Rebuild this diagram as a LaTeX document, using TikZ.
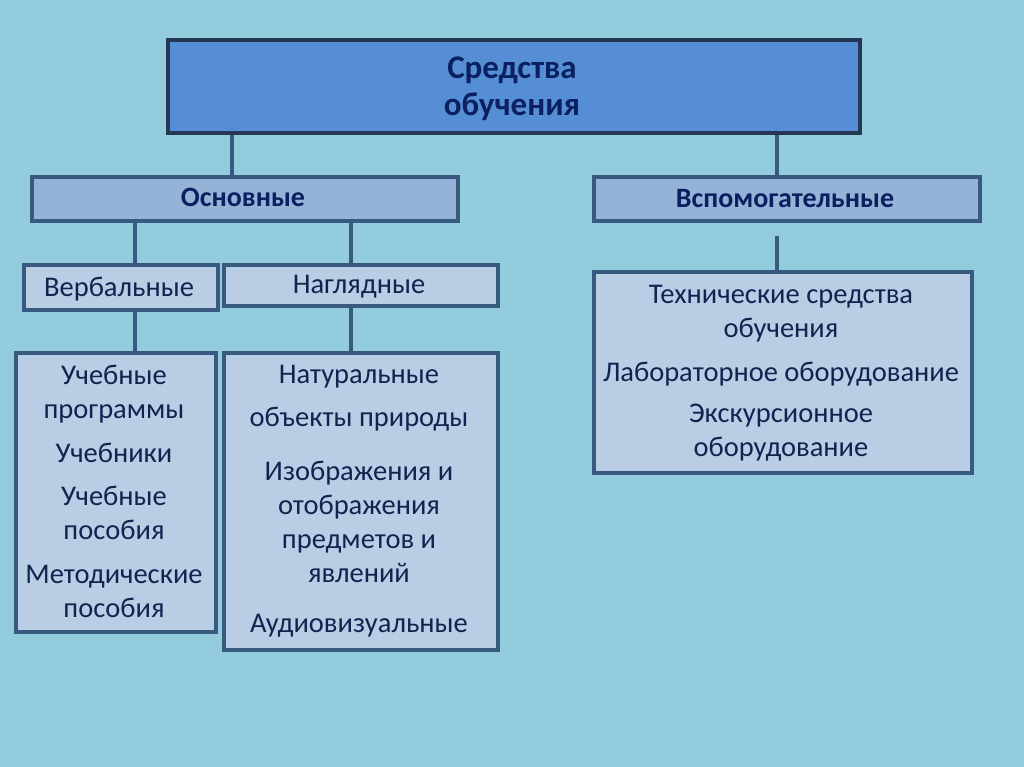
\documentclass[tikz,border=0pt]{standalone}
\usepackage{fontspec}
\setmainfont{Carlito}
\definecolor{bg}{RGB}{147,205,221}
\definecolor{topfill}{RGB}{85,142,213}
\definecolor{midfill}{RGB}{149,179,215}
\definecolor{lowfill}{RGB}{185,205,229}
\definecolor{topedge}{RGB}{36,56,84}
\definecolor{edge}{RGB}{56,90,128}
\definecolor{ink}{RGB}{16,36,80}
\definecolor{titleink}{RGB}{10,32,96}
\begin{document}
\begin{tikzpicture}[x=1pt,y=-1pt,
  box/.style={draw=edge,line width=4pt,inner sep=0pt,anchor=north west},
  link/.style={draw=edge,line width=4pt},
  txt/.style={text=ink,font=\fontsize{28.5}{34}\selectfont,align=center,inner sep=0pt},
  btxt/.style={text=titleink,font=\fontsize{33}{37}\selectfont\bfseries,align=center,inner sep=0pt},
  stxt/.style={text=titleink,font=\fontsize{28}{32}\selectfont\bfseries,align=center,inner sep=0pt}]
\fill[bg] (0,0) rectangle (1024,767);
\useasboundingbox (0,0) rectangle (1024,767);
% boxes
\node[box,draw=topedge,fill=topfill,minimum width=692pt,minimum height=93pt] (top) at (166,38) {};
\node[box,fill=midfill,minimum width=426pt,minimum height=44pt] (osn) at (30,175) {};
\node[box,fill=midfill,minimum width=386pt,minimum height=44pt] (vsp) at (592,175) {};
\node[box,fill=lowfill,minimum width=194pt,minimum height=45pt] (verb) at (22,263) {};
\node[box,fill=lowfill,minimum width=274pt,minimum height=41pt] (nagl) at (222,263) {};
\node[box,fill=lowfill,minimum width=200pt,minimum height=279pt] (lb) at (14,351) {};
\node[box,fill=lowfill,minimum width=274pt,minimum height=297pt] (mb) at (222,351) {};
\node[box,fill=lowfill,minimum width=378pt,minimum height=201pt] (rb) at (592,270) {};
% connectors
\draw[link] (top.south -| 232,0) -- (osn.north -| 232,0);
\draw[link] (top.south -| 777,0) -- (vsp.north -| 777,0);
\draw[link] (osn.south -| 135,0) -- (verb.north -| 135,0);
\draw[link] (osn.south -| 351,0) -- (nagl.north -| 351,0);
\draw[link] (vsp.south -| 777,0) ++(0,13) -- (rb.north -| 777,0);
\draw[link] (verb.south -| 135,0) -- (lb.north -| 135,0);
\draw[link] (nagl.south -| 351,0) -- (mb.north -| 351,0);
% texts
\node[btxt] (t1) at (512,89) {Средства\\обучения};
\node[stxt] (t2) at (243,197) {Основные};
\node[stxt] (t3) at (785,199) {Вспомогательные};
\node[txt] (t4) at (119,289) {Вербальные};
\node[txt] (t5) at (359,287) {Наглядные};
\node[txt] (l1) at (114,394) {Учебные\\программы};
\node[txt] (l2) at (114,453) {Учебники};
\node[txt] (l3) at (114,513) {Учебные\\пособия};
\node[txt] (l4) at (114,591) {Методические\\пособия};
\node[txt] (m1) at (359,377) {Натуральные};
\node[txt] (m2) at (359,419) {объекты природы};
\node[txt] (m3) at (359,522) {Изображения и\\отображения\\предметов и\\явлений};
\node[txt] (m4) at (359,626) {Аудиовизуальные};
\node[txt] (r1) at (781,314) {Технические средства\\обучения};
\node[txt] (r2) at (781,374) {Лабораторное оборудование};
\node[txt] (r3) at (781,433) {Экскурсионное\\оборудование};
\end{tikzpicture}
\end{document}
